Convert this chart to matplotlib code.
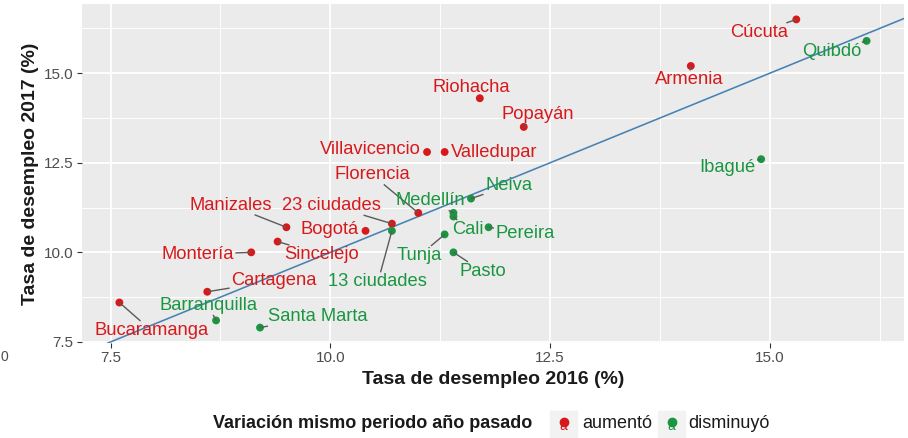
import numpy as np
import matplotlib
matplotlib.use("Agg")
import matplotlib.pyplot as plt
from matplotlib.patches import Rectangle
from matplotlib.lines import Line2D

plt.rcParams['font.family'] = ['Liberation Sans', 'DejaVu Sans']

# ============================================
# DATOS
# ============================================
ciudades = ["Cúcuta", "Quibdó", "Armenia", "Ibagué", "Riohacha", "Popayán",
            "Villavicencio", "Valledupar", "Florencia", "23 ciudades",
            "13 ciudades", "Bogotá", "Medellín", "Cali", "Neiva", "Pereira",
            "Tunja", "Pasto", "Manizales", "Sincelejo", "Montería",
            "Cartagena", "Bucaramanga", "Barranquilla", "Santa Marta"]
tasa_2016 = [15.3, 16.1, 14.1, 14.9, 11.7, 12.2, 11.1, 11.3, 11.0, 10.7,
             10.7, 10.4, 11.4, 11.4, 11.6, 11.8, 11.3, 11.4, 9.5, 9.4,
             9.1, 8.6, 7.6, 8.7, 9.2]
tasa_2017 = [16.5, 15.9, 15.2, 12.6, 14.3, 13.5, 12.8, 12.8, 11.1, 10.8,
             10.6, 10.6, 11.1, 11.0, 11.5, 10.7, 10.5, 10.0, 10.7, 10.3,
             10.0, 8.9, 8.6, 8.1, 7.9]
variacion = ["aumentó", "disminuyó", "aumentó", "disminuyó", "aumentó",
             "aumentó", "aumentó", "aumentó", "aumentó", "aumentó",
             "disminuyó", "aumentó", "disminuyó", "disminuyó", "disminuyó",
             "disminuyó", "disminuyó", "disminuyó", "aumentó", "aumentó",
             "aumentó", "aumentó", "aumentó", "disminuyó", "disminuyó"]
categorias = ["aumentó", "disminuyó"]

# ============================================
# ESTILO
# ============================================
COLORES = {"aumentó": "#D7191C", "disminuyó": "#1A9641"}
FONDO_PANEL = "#EBEBEB"
GRIS_TEXTO = "#4D4D4D"
W, H = 908, 438

# desplazamiento de cada etiqueta respecto a su punto (pixeles)
desplazamientos = {
    "Cúcuta": (-37, -13), "Quibdó": (-35, -11), "Armenia": (-2, -14),
    "Ibagué": (-34, -8), "Riohacha": (-9, 11), "Popayán": (14, 12),
    "Villavicencio": (-57, 2), "Valledupar": (50, -1), "Florencia": (-46, 38),
    "23 ciudades": (-60, 18), "13 ciudades": (-14, -51), "Bogotá": (-36, 1),
    "Medellín": (-23, 12), "Cali": (14, -13), "Neiva": (38, 13),
    "Pereira": (37, -6), "Tunja": (-25, -21), "Pasto": (29, -19),
    "Manizales": (-56, 22), "Sincelejo": (44, -13), "Montería": (-54, -2),
    "Cartagena": (67, 11), "Bucaramanga": (32, -28), "Barranquilla": (-8, 15),
    "Santa Marta": (58, 11),
}
# etiquetas tan cercanas a su punto que no llevan segmento
sin_segmento = {"Bogotá", "Villavicencio", "Valledupar"}

fig = plt.figure(figsize=(W / 100, H / 100), dpi=100)
ax = fig.add_axes([82 / W, 1 - 343 / H, 822 / W, 339 / H])
ax.set_facecolor(FONDO_PANEL)
for s in ax.spines.values():
    s.set_visible(False)

# límites tipo ggplot (expansión 5%)
xr = max(tasa_2016) - min(tasa_2016)
yr = max(tasa_2017) - min(tasa_2017)
ax.set_xlim(min(tasa_2016) - 0.05 * xr, max(tasa_2016) + 0.05 * xr)
ax.set_ylim(min(tasa_2017) - 0.05 * yr, max(tasa_2017) + 0.05 * yr)

ax.set_xticks([7.5, 10.0, 12.5, 15.0])
ax.set_yticks([7.5, 10.0, 12.5, 15.0])
ax.set_xticks([8.75, 11.25, 13.75, 16.25], minor=True)
ax.set_yticks([8.75, 11.25, 13.75, 16.25], minor=True)
ax.set_xticklabels(["7.5", "10.0", "12.5", "15.0"])
ax.set_yticklabels(["7.5", "10.0", "12.5", "15.0"])
ax.grid(which='major', color='white', linewidth=1.3)
ax.grid(which='minor', color='white', linewidth=0.65)
ax.set_axisbelow(True)
ax.tick_params(which='major', length=3.6, width=0.8, color='#333333',
               labelcolor=GRIS_TEXTO, labelsize=11, pad=2.5)
ax.tick_params(which='minor', length=0)

# línea y = x
ax.axline((10, 10), slope=1, color='#4682B4', linewidth=1.15, zorder=2)

# puntos
colores_pts = [COLORES[v] for v in variacion]
ax.scatter(tasa_2016, tasa_2017, c=colores_pts, s=32, zorder=3, linewidths=0)

# etiquetas
textos = []
for nombre, x, y, v in zip(ciudades, tasa_2016, tasa_2017, variacion):
    dx, dy = desplazamientos[nombre]
    t = ax.annotate(nombre, (x, y), xytext=(dx, dy), textcoords='offset pixels',
                    ha='center', va='center', fontsize=13.2, color=COLORES[v],
                    zorder=5)
    textos.append(t)

# segmentos punto -> caja de la etiqueta
fig.canvas.draw()
renderer = fig.canvas.get_renderer()
inv = ax.transData.inverted()
for nombre, t, x, y in zip(ciudades, textos, tasa_2016, tasa_2017):
    if nombre in sin_segmento:
        continue
    bb = t.get_window_extent(renderer)
    cx, cy = (bb.x0 + bb.x1) / 2, (bb.y0 + bb.y1) / 2
    hw, hh = bb.width / 2 + 2, bb.height / 2 + 1
    px, py = ax.transData.transform((x, y))
    ddx, ddy = px - cx, py - cy
    k = min(hw / abs(ddx) if ddx else np.inf, hh / abs(ddy) if ddy else np.inf)
    if k >= 1:
        continue
    ex, ey = cx + ddx * k, cy + ddy * k
    if np.hypot(px - ex, py - ey) < 3:
        continue
    (x0, y0), (x1, y1) = inv.transform([(px, py), (ex, ey)])
    ax.plot([x0, x1], [y0, y1], color='#5A5A5A', linewidth=1.0, zorder=4,
            solid_capstyle='butt')

# títulos de ejes
ax.set_xlabel("Tasa de desempleo 2016 (%)", fontsize=14, fontweight='bold',
              color='#1A1A1A')
ax.xaxis.set_label_coords(0.5, -(380 - 343) / 339)
ax.xaxis.label.set_va('center')
ax.set_ylabel("Tasa de desempleo 2017 (%)", fontsize=14, fontweight='bold',
              color='#1A1A1A')
ax.yaxis.set_label_coords(-(82 - 31) / 822, 0.5)
ax.yaxis.label.set_va('center')

# leyenda manual (estilo ggplot)
ly = 1 - 424 / H
fig.text(213 / W, ly, "Variación mismo periodo año pasado", fontsize=13,
         fontweight='bold', color='#1A1A1A', ha='left', va='center')
claves = {"aumentó": (550, 582), "disminuyó": (658, 688)}
for cat in categorias:
    kx, tx = claves[cat]
    fig.add_artist(Rectangle((kx / W, 1 - 437 / H), 27 / W, 26 / H,
                             transform=fig.transFigure, color='#F2F2F2',
                             zorder=1))
    fig.text((kx + 13.5) / W, ly - 2 / H, "a", fontsize=10, color=COLORES[cat],
             ha='center', va='center', zorder=2)
    fig.add_artist(Line2D([(kx + 13.5) / W], [ly + 2 / H], marker='o',
                          markersize=6, color=COLORES[cat], linewidth=0,
                          transform=fig.transFigure, zorder=3))
    fig.text(tx / W, ly, cat, fontsize=13, color='#1A1A1A', ha='left',
             va='center')

# rótulo suelto junto al borde izquierdo
fig.text(0.5 / W, 1 - 357 / H, "0", fontsize=10, color=GRIS_TEXTO, ha='left',
         va='center')

fig.savefig("out.png", dpi=100)
